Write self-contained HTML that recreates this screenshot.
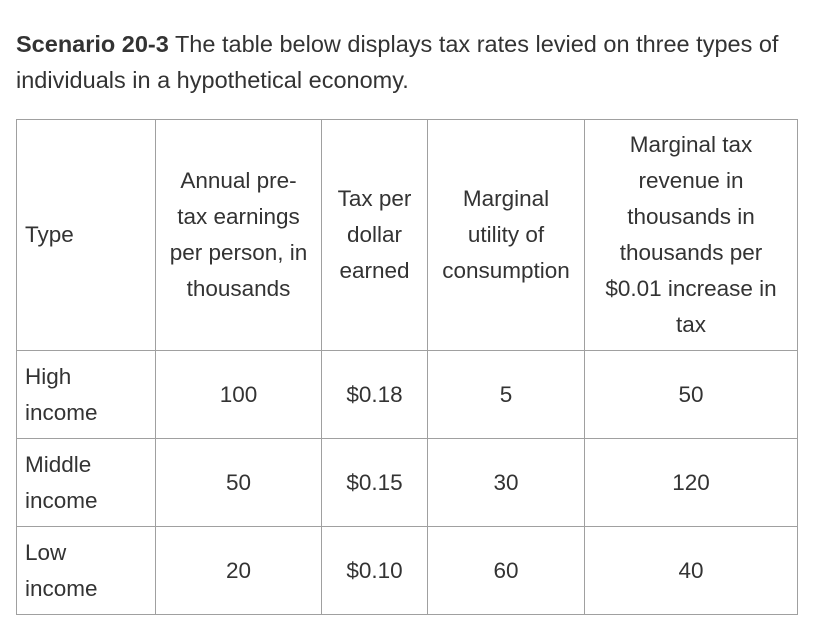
<!DOCTYPE html>
<html><head><meta charset="utf-8">
<style>
html,body{margin:0;padding:0;background:#fff;}
body{width:814px;height:640px;position:relative;overflow:hidden;font-family:"Liberation Sans",Arial,sans-serif;color:#333;}
#intro{position:absolute;left:16px;top:26px;width:800px;font-size:23.5px;line-height:36px;margin:0;white-space:nowrap;}
#intro b{font-weight:bold;}
table{position:absolute;left:16px;top:119px;border-collapse:collapse;table-layout:fixed;font-size:22.5px;line-height:36px;}
td{border:1px solid #a0a0a0;text-align:center;vertical-align:middle;padding:0;white-space:nowrap;overflow:hidden;}
td.l{text-align:left;padding-left:8px;}
tr.h td{height:230px;}
tr.r td{height:87px;}
</style></head>
<body>
<p id="intro"><b>Scenario 20-3</b> The table below displays tax rates levied on three types of<br>individuals in a hypothetical economy.</p>
<table>
<colgroup><col style="width:139px"><col style="width:166px"><col style="width:106px"><col style="width:157px"><col style="width:213px"></colgroup>
<tr class="h">
<td class="l">Type</td>
<td>Annual pre-<br>tax earnings<br>per person, in<br>thousands</td>
<td>Tax per<br>dollar<br>earned</td>
<td>Marginal<br>utility of<br>consumption</td>
<td>Marginal tax<br>revenue in<br>thousands in<br>thousands per<br>$0.01 increase in<br>tax</td>
</tr>
<tr class="r">
<td class="l">High<br>income</td>
<td>100</td>
<td>$0.18</td>
<td>5</td>
<td>50</td>
</tr>
<tr class="r">
<td class="l">Middle<br>income</td>
<td>50</td>
<td>$0.15</td>
<td>30</td>
<td>120</td>
</tr>
<tr class="r">
<td class="l">Low<br>income</td>
<td>20</td>
<td>$0.10</td>
<td>60</td>
<td>40</td>
</tr>
</table>
</body></html>
